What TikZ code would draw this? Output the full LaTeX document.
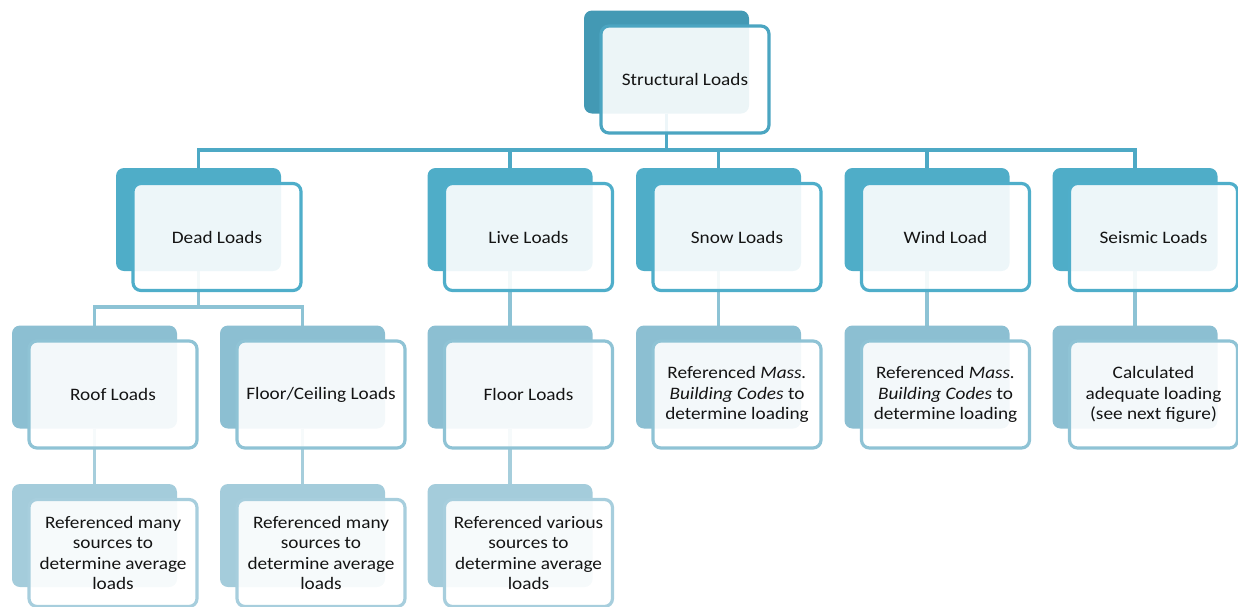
\documentclass[tikz,border=0pt]{standalone}
\usepackage{fontspec}
\setmainfont[FakeStretch=1.1]{Carlito}
\pgfdeclarelayer{links}
\pgfsetlayers{links,main}

% colours per level: back plate, frame, connector
\definecolor{lvlAback}{HTML}{4399B4}
\definecolor{lvlAframe}{HTML}{4BA5C1}
\definecolor{lvlBback}{HTML}{4FADC8}
\definecolor{lvlBframe}{HTML}{4FAECA}
\definecolor{lvlCback}{HTML}{8CBFD2}
\definecolor{lvlCframe}{HTML}{8FC3D5}
\definecolor{lvlDback}{HTML}{A4CCDB}
\definecolor{lvlDframe}{HTML}{A7CEDD}
\definecolor{linkB}{HTML}{4DA9C5}
\definecolor{linkC}{HTML}{8DC3D5}
\definecolor{linkD}{HTML}{A6CEDC}
\definecolor{txt}{HTML}{141414}

\tikzset{
  plate/.style={rectangle, rounded corners=8pt, minimum width=165pt,
    minimum height=103pt, inner sep=0pt, outer sep=0pt, draw=none},
  card/.style={rectangle, rounded corners=8pt, minimum width=168pt,
    minimum height=107pt, inner sep=0pt, outer sep=0pt, line width=3.2pt,
    fill=white, fill opacity=0.9, text opacity=1, align=center, text=txt,
    font=\fontsize{17.5}{20.5}\selectfont},
  link/.style={line width=3.4pt},
}

% #1 name, #2 x, #3 y, #4 level letter, #5 label
\newcommand{\loadbox}[5]{%
  \node[plate, fill=lvl#4back] (#1) at (#2,#3) {};
  \node[card, draw=lvl#4frame] (#1-t) at ([shift={(18.5,17.5)}]#1.center) {#5};
}

\begin{document}
\begin{tikzpicture}[x=1pt,y=-1pt]
\useasboundingbox (0,0) rectangle (1238,606);

% level 0
\loadbox{root}{666.5}{62}{A}{Structural Loads}

% level 1
\loadbox{dead}{198.5}{219.5}{B}{Dead Loads}
\loadbox{live}{510}{219.5}{B}{Live Loads}
\loadbox{snow}{718.5}{219.5}{B}{Snow Loads}
\loadbox{wind}{927}{219.5}{B}{Wind Load}
\loadbox{seismic}{1135}{219.5}{B}{Seismic Loads}

% level 2
\loadbox{roof}{94.5}{377}{C}{Roof Loads}
\loadbox{ceil}{302.5}{377}{C}{Floor/Ceiling Loads}
\loadbox{floor}{510}{377}{C}{Floor Loads}
\loadbox{snowref}{718.5}{377}{C}{Referenced \textit{Mass.}\\\textit{Building Codes} to\\determine loading}
\loadbox{windref}{927}{377}{C}{Referenced \textit{Mass.}\\\textit{Building Codes} to\\determine loading}
\loadbox{seisref}{1135}{377}{C}{Calculated\\adequate loading\\(see next figure)}

% level 3
\loadbox{roofref}{94.5}{535.5}{D}{Referenced many\\sources to\\determine average\\loads}
\loadbox{ceilref}{302.5}{535.5}{D}{Referenced many\\sources to\\determine average\\loads}
\loadbox{floorref}{510}{535.5}{D}{Referenced various\\sources to\\determine average\\loads}

\coordinate (barA) at (0,150);
\coordinate (barB) at (0,307);

\begin{pgfonlayer}{links}
  \foreach \c in {dead,live,snow,wind,seismic}
    \draw[link, linkB] (root.south) -- (root.south |- barA) -| (\c.north);
  \foreach \c in {roof,ceil}
    \draw[link, linkC] (dead.south) -- (dead.south |- barB) -| (\c.north);
  \draw[link, linkC] (live.south) -- (floor.north);
  \draw[link, linkC] (snow.south) -- (snowref.north);
  \draw[link, linkC] (wind.south) -- (windref.north);
  \draw[link, linkC] (seismic.south) -- (seisref.north);
  \draw[link, linkD] (roof.south) -- (roofref.north);
  \draw[link, linkD] (ceil.south) -- (ceilref.north);
  \draw[link, linkD] (floor.south) -- (floorref.north);
\end{pgfonlayer}
\end{tikzpicture}
\end{document}
